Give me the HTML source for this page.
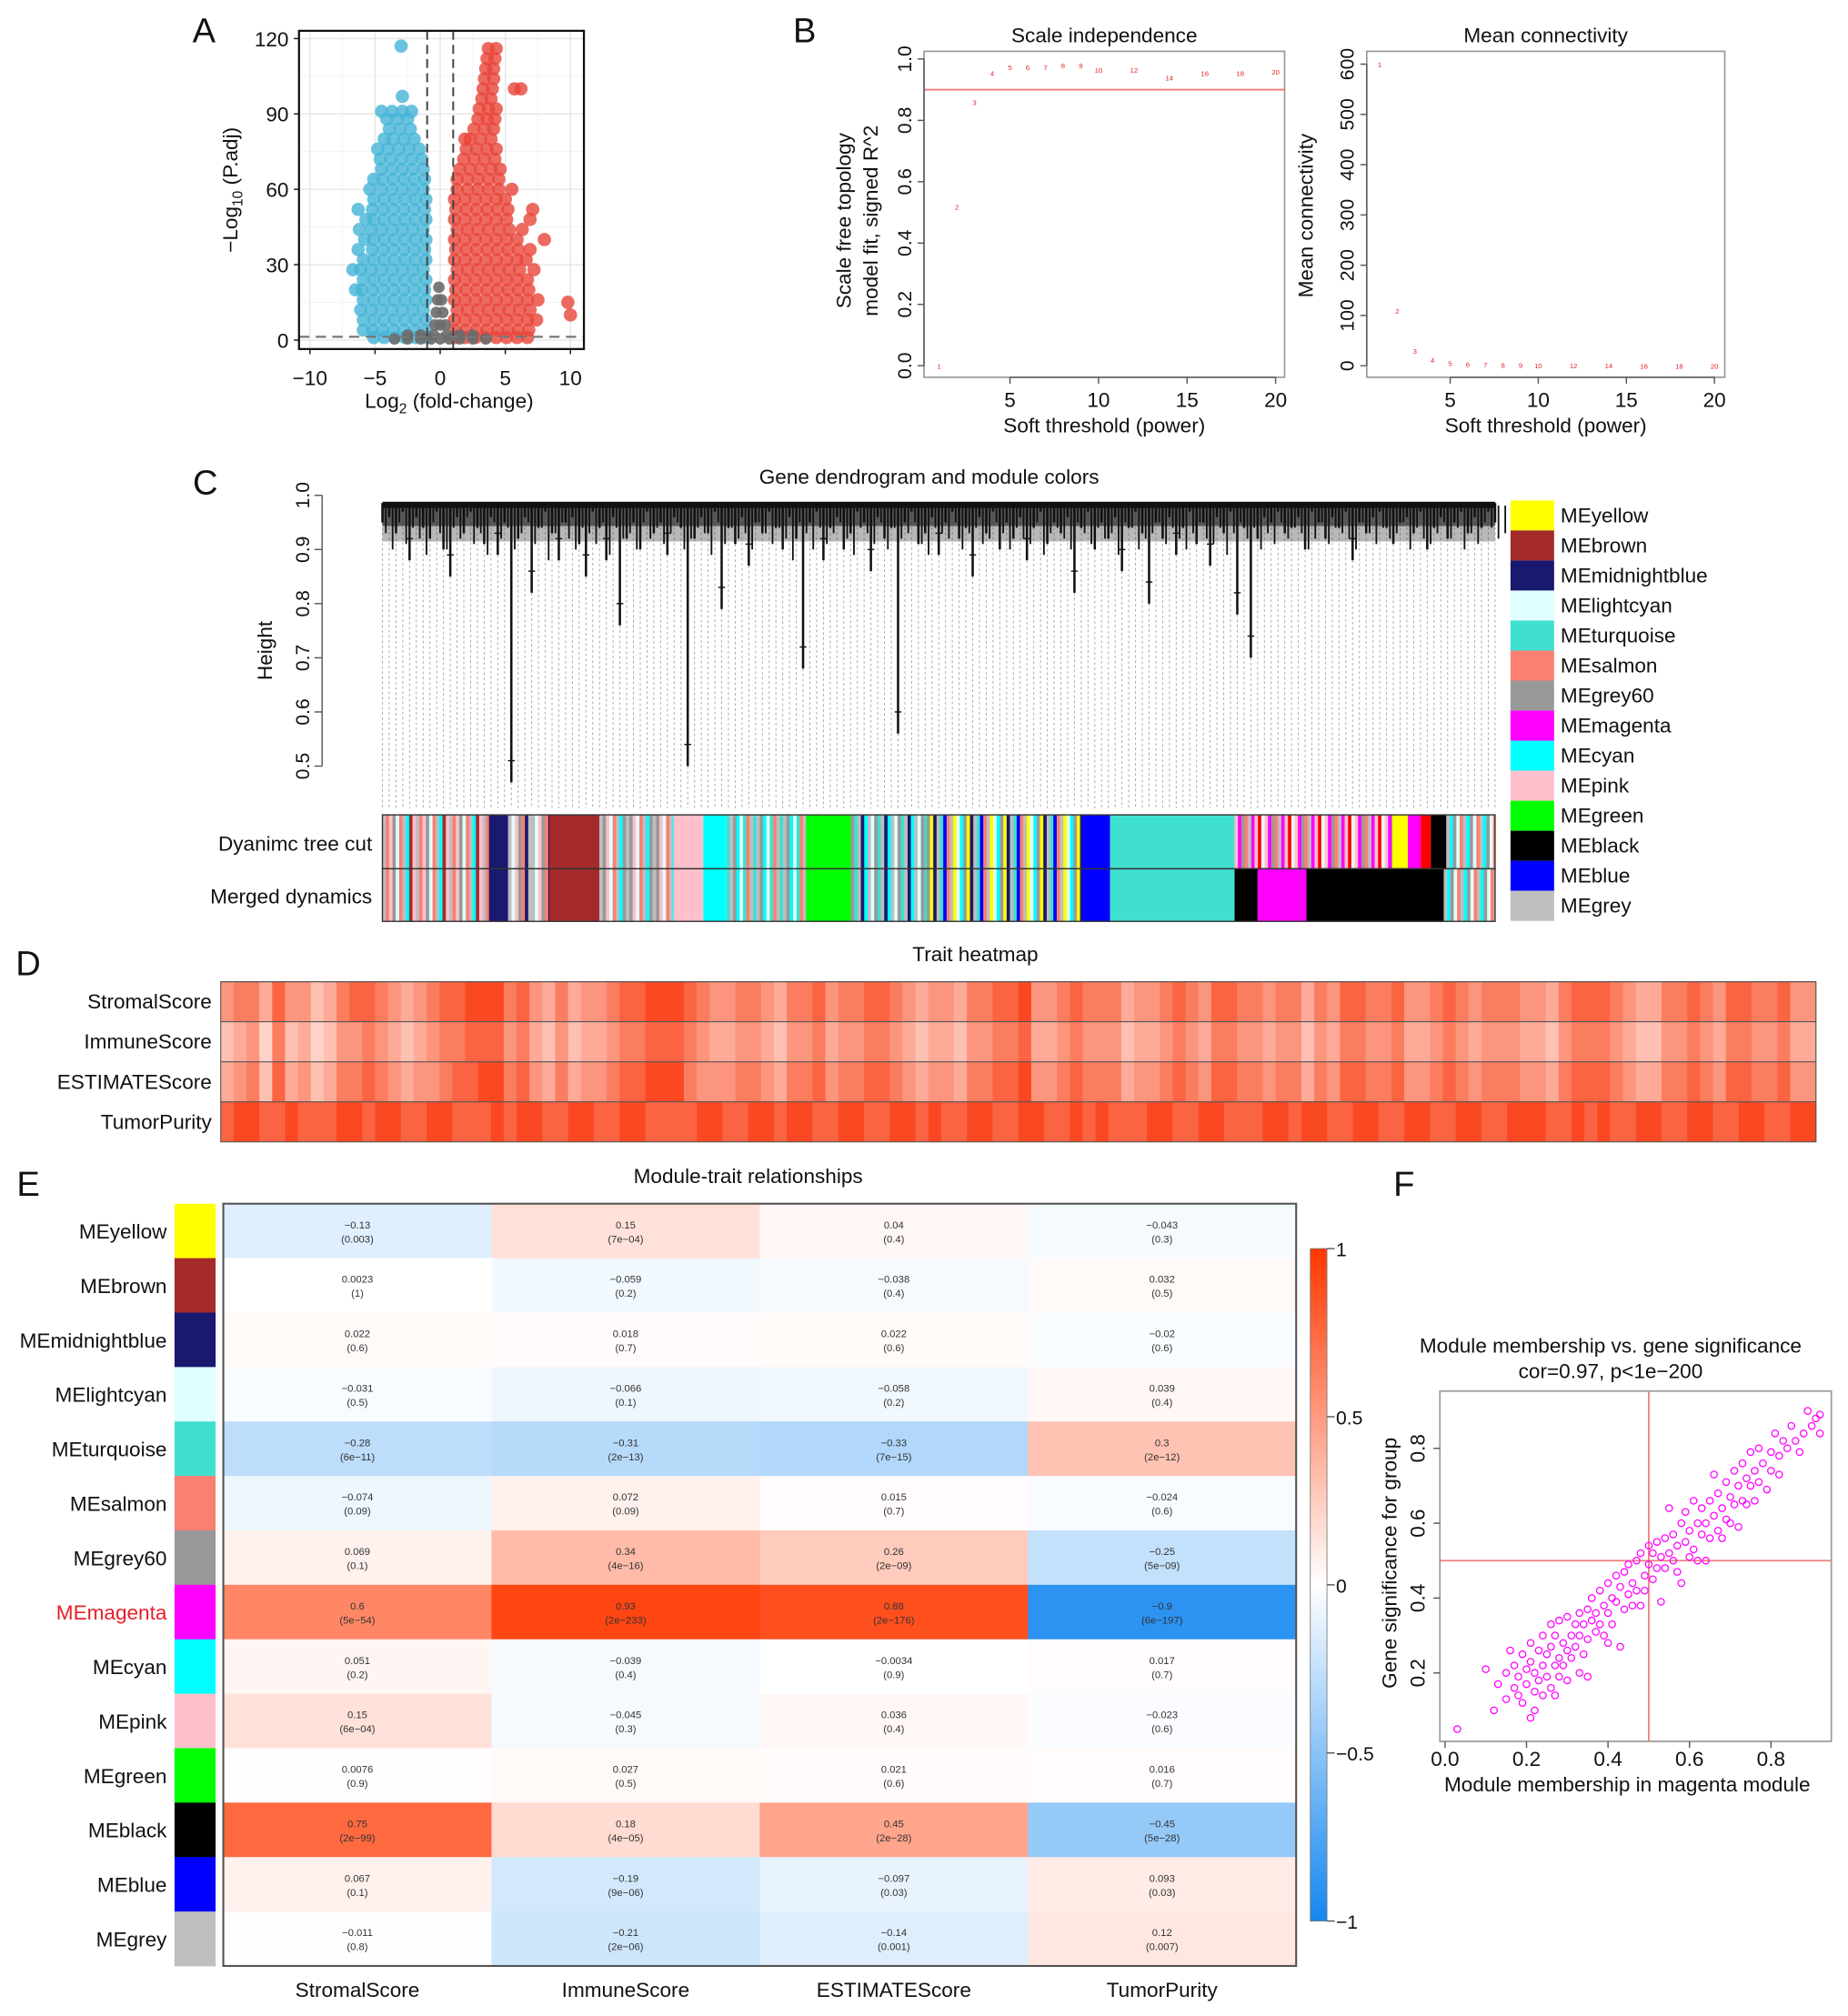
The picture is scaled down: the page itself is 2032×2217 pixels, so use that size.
<!DOCTYPE html>
<html><head><meta charset="utf-8"><title>WGCNA figure</title>
<style>
html,body{margin:0;padding:0;background:#fff;}
svg{display:block;font-family:"Liberation Sans",Arial,sans-serif;}
</style></head>
<body>
<svg id="fig" width="2032" height="2217" viewBox="0 0 1440 1571" preserveAspectRatio="none" xmlns="http://www.w3.org/2000/svg"></svg>
<script>
// ---------- DATA ----------
const blueRows = [[1,[-1.1,-1.9,-2.7,-3.5,-4.3,-5.1]],[4,[-1.2,-2,-2.8,-3.6,-4.4,-5.2,-5.9]],[8,[-1.1,-1.9,-2.7,-3.5,-4.3,-5.1,-5.9]],[12,[-1.3,-2.1,-2.9,-3.7,-4.5,-5.3,-6.1]],[16,[-1.1,-1.9,-2.7,-3.5,-4.3,-5.1,-5.9]],[20,[-1.2,-2,-2.8,-3.6,-4.4,-5.2,-6,-6.5]],[24,[-1.1,-1.9,-2.7,-3.5,-4.3,-5.1,-5.9]],[28,[-1.3,-2.1,-2.9,-3.7,-4.5,-5.3,-6.1,-6.7]],[32,[-1.1,-1.9,-2.7,-3.5,-4.3,-5.1,-5.9]],[36,[-1.2,-2,-2.8,-3.6,-4.4,-5.2,-6.3]],[40,[-1.1,-1.9,-2.7,-3.5,-4.3,-5.1,-5.8]],[44,[-1.3,-2.1,-2.9,-3.7,-4.5,-5.3,-6.2]],[48,[-1.1,-1.9,-2.7,-3.5,-4.3,-5.1,-5.7]],[52,[-1.2,-2,-2.8,-3.6,-4.4,-5.2,-6.3]],[56,[-1.1,-1.9,-2.7,-3.5,-4.3,-5.1]],[60,[-1.3,-2.1,-2.9,-3.7,-4.5,-5.4]],[64,[-1.2,-2,-2.8,-3.6,-4.4,-5.1]],[68,[-1.3,-2.1,-2.9,-3.7,-4.5]],[72,[-1.4,-2.2,-3,-3.8,-4.6]],[76,[-1.6,-2.4,-3.2,-4,-4.8]],[80,[-2,-2.8,-3.6,-4.3]],[84,[-2.3,-3.1,-3.9]],[88,[-2.5,-3.3,-4.1]],[91,[-2.2,-2.9,-3.7,-4.5]],[97,[-2.9]],[117,[-3]]];
const redRows = [[1,[1.1,1.9,2.7,3.5,4.3,5.1,5.9,6.7]],[4,[1.2,2,2.8,3.6,4.4,5.2,6,6.8]],[8,[1.1,1.9,2.7,3.5,4.3,5.1,5.9,6.7,7.4]],[12,[1.3,2.1,2.9,3.7,4.5,5.3,6.1,6.9]],[16,[1.1,1.9,2.7,3.5,4.3,5.1,5.9,6.7,7.5]],[20,[1.2,2,2.8,3.6,4.4,5.2,6,6.8]],[24,[1.1,1.9,2.7,3.5,4.3,5.1,5.9,6.7]],[28,[1.3,2.1,2.9,3.7,4.5,5.3,6.1,7.2]],[32,[1.1,1.9,2.7,3.5,4.3,5.1,5.9,6.6]],[36,[1.2,2,2.8,3.6,4.4,5.2,6,6.9]],[40,[1.1,1.9,2.7,3.5,4.3,5.1,5.9,8]],[44,[1.3,2.1,2.9,3.7,4.5,5.3,6.3]],[48,[1.1,1.9,2.7,3.5,4.3,5.1,6.9]],[52,[1.2,2,2.8,3.6,4.4,5.2,7.1]],[56,[1.1,1.9,2.7,3.5,4.3,5]],[60,[1.3,2.1,2.9,3.7,4.5,5.5]],[64,[1.3,2.1,2.9,3.7,4.5]],[68,[1.5,2.3,3.1,3.9,4.6]],[72,[1.8,2.6,3.4,4.2]],[76,[2,2.8,3.6,4.3]],[80,[2.3,3.1,3.9,1.9]],[84,[2.6,3.4,4.1]],[88,[2.9,3.6,4.2]],[92,[3,3.7,4.3]],[96,[3.2,3.9]],[100,[3.3,4,5.7,6.2]],[104,[3.4,4.1]],[108,[3.5,4.1]],[112,[3.6,4.2]],[116,[3.7,4.3]],[15,[9.8]],[10,[10]]];
const grayRows = [[0.5,[-3.5,-2.5,-1.5,-0.7,0,0.7,1.5,2.5,3.5]],[2,[-2.5,-1.5,-0.5,0.5,1.5,2.5]],[6,[-0.4,0,0.4]],[11,[-0.3,0.2]],[16,[-0.2,0.1]],[21,[-0.1]]];
const volcanoXTicks = [-10,-5,0,5,10];
const volcanoYTicks = [0,30,60,90,120];

const powers = [1,2,3,4,5,6,7,8,9,10,12,14,16,18,20];
const sftR2 = [0.0,0.52,0.86,0.955,0.975,0.975,0.975,0.98,0.98,0.965,0.965,0.94,0.955,0.955,0.96];
const meanK = [600,110,30,12,6,4,3,2,2,1.5,1,1,0.5,0.5,0.3];
const r2Ticks = [0,0.2,0.4,0.6,0.8,1.0];
const kTicks = [0,100,200,300,400,500,600];
const powerTicks = [5,10,15,20];

const leafHeights = "95 96 93 97 88 96 94 92 97 90 85 96 93 97 94 91 96 89 95 47 92 96 82 94 97 93 88 95 96 91 85 97 94 88 96 76 92 95 90 97 93 95 89 96 94 50 92 96 93 97 79 94 91 96 87 95 93 97 94 90 96 92 68 95 97 88 94 96 90 93 97 95 86 96 92 94 56 95 97 91 93 96 89 95 97 92 94 85 96 93 97 90 95 92 96 88 94 97 91 95 93 96 82 94 97 90 95 92 96 86 94 97 93 80 95 92 96 89 94 97 91 95 87 96 93 97 78 94 70 92 96 95 97 93 94 96 90 97 95 92 96 94 97 88 95 93 96 97 94 91 95 96 93 97 90 94 96 92 95 97 93 96 94 97 95".split(" ").map(Number);
const subLeafHeights = "93 90 95 91 94 92 89 95 93 90 94 92 96 91 93 89 95 92 94 90 93 95 91 94 88 93 95 92 90 94 93 91 95 89 94 92 93 90 95 92 94 91 93 95 90 92 94 93 89 95 91 94 92 93 90 95 93 91 94 92 88 95 93 90 94 91 93 95 92 89 94 93 91 95 90 94 92 93 95 91 89 94 93 92 95 90 93 94 91 92 95 93 90 94 92 91 95 89 93 94 92 90 95 93 91 94 92 93 89 95 94 90 92 93 95 91 94 92 90 93 95 92 91 94 89 93 95 92 94 90 93 91 95 92 94 93 90 92 95 91 94 93 92 90 95 93 91 94 92 93 95 90 94 92 91 93 95 92 94 90 93 91 95 94 92 93 90 95 93".split(" ").map(Number);
const heightTicks = [0.5,0.6,0.7,0.8,0.9,1.0];
const legendModules = ["MEyellow","MEbrown","MEmidnightblue","MElightcyan","MEturquoise","MEsalmon","MEgrey60","MEmagenta","MEcyan","MEpink","MEgreen","MEblack","MEblue","MEgrey"];
const legendColors = ["#FFFF00","#A52A2A","#191970","#E0FFFF","#40E0D0","#FA8072","#999999","#FF00FF","#00FFFF","#FFC0CB","#00FF00","#000000","#0000FF","#BEBEBE"];
const dynSegments = [[298,381,"grey,salmon,pink,grey60,lightcyan,salmon,grey,cyan,brown,pink"],[381,396,"midnightblue"],[396,428,"grey,lightcyan,pink,grey60,salmon,midnightblue,grey"],[428,467,"brown"],[467,525,"grey,grey60,pink,lightcyan,salmon,grey,cyan,grey60"],[525,548,"pink"],[548,566,"cyan"],[566,628,"turquoise,grey,grey60,cyan,lightcyan,turquoise,salmon,grey"],[628,663,"green"],[663,722,"grey60,turquoise,grey,midnightblue,cyan,grey,lightcyan"],[722,843,"grey60,yellow,midnightblue,grey,turquoise,blue,salmon,grey,yellow,lightcyan,cyan"],[843,865,"blue"],[865,962,"turquoise"],[962,1085,"pink,magenta,grey60,salmon,grey,magenta,pink,red,lightcyan"],[1085,1097,"yellow"],[1097,1107,"magenta"],[1107,1115,"red"],[1115,1127,"black"],[1127,1165,"grey,cyan,grey60,lightcyan,salmon"]];
const mrgSegments = [[298,381,"grey,salmon,pink,grey60,lightcyan,salmon,grey,cyan,brown,pink"],[381,396,"midnightblue"],[396,428,"grey,lightcyan,pink,grey60,salmon,midnightblue,grey"],[428,467,"brown"],[467,525,"grey,grey60,pink,lightcyan,salmon,grey,cyan,grey60"],[525,548,"pink"],[548,566,"cyan"],[566,628,"turquoise,grey,grey60,cyan,lightcyan,turquoise,salmon,grey"],[628,663,"green"],[663,722,"grey60,turquoise,grey,midnightblue,cyan,grey,lightcyan"],[722,843,"grey60,yellow,midnightblue,grey,turquoise,blue,salmon,grey,yellow,lightcyan,cyan"],[843,865,"blue"],[865,962,"turquoise"],[962,980,"black"],[980,1018,"magenta"],[1018,1125,"black"],[1125,1165,"grey,cyan,grey60,lightcyan,salmon"]];

const traitNames = ["StromalScore","ImmuneScore","ESTIMATEScore","TumorPurity"];
const stromalVals = "6775866457887656788999786575667889998766776577867788765665778896678777566787688776775768877866787677766578887655778768877866".split("").map(Number);
const immuneVals  = "4563745346676545677888675464556778887655665466756677654554667785567666455676577665664657766755676566655467776544667657766755".split("").map(Number);
const estimateVals= "5674856457787656678899786575667889997666776577867788765665778896678777566787688776775768877866787677766578887655778768877866".split("").map(Number);
const purityVals  = "8998898889989988998889899889988998888998899899889988998988998899889898889988998889989988998899889988999889898899889988998899".split("").map(Number);

const eModules = ["MEyellow","MEbrown","MEmidnightblue","MElightcyan","MEturquoise","MEsalmon","MEgrey60","MEmagenta","MEcyan","MEpink","MEgreen","MEblack","MEblue","MEgrey"];
const eTraits = ["StromalScore","ImmuneScore","ESTIMATEScore","TumorPurity"];
const corStromal  = [-0.13,0.0023,0.022,-0.031,-0.28,-0.074,0.069,0.6,0.051,0.15,0.0076,0.75,0.067,-0.011];
const corImmune   = [0.15,-0.059,0.018,-0.066,-0.31,0.072,0.34,0.93,-0.039,-0.045,0.027,0.18,-0.19,-0.21];
const corEstimate = [0.04,-0.038,0.022,-0.058,-0.33,0.015,0.26,0.88,-0.0034,0.036,0.021,0.45,-0.097,-0.14];
const corPurity   = [-0.043,0.032,-0.02,0.039,0.3,-0.024,-0.25,-0.9,0.017,-0.023,0.016,-0.45,0.093,0.12];
const pStromal  = ["0.003","1","0.6","0.5","6e−11","0.09","0.1","5e−54","0.2","6e−04","0.9","2e−99","0.1","0.8"];
const pImmune   = ["7e−04","0.2","0.7","0.1","2e−13","0.09","4e−16","2e−233","0.4","0.3","0.5","4e−05","9e−06","2e−06"];
const pEstimate = ["0.4","0.4","0.6","0.2","7e−15","0.7","2e−09","2e−176","0.9","0.4","0.6","2e−28","0.03","0.001"];
const pPurity   = ["0.3","0.5","0.6","0.4","2e−12","0.6","5e−09","6e−197","0.7","0.6","0.7","5e−28","0.03","0.007"];
const colorbarTicks = [1,0.5,0,-0.5,-1];

const fPoints = [[0.03,0.05],[0.1,0.21],[0.12,0.1],[0.13,0.17],[0.15,0.2],[0.15,0.13],[0.16,0.26],[0.17,0.16],[0.17,0.22],[0.18,0.14],[0.18,0.19],[0.19,0.25],[0.19,0.12],[0.2,0.21],[0.2,0.17],[0.21,0.08],[0.21,0.28],[0.21,0.23],[0.22,0.15],[0.22,0.2],[0.22,0.1],[0.23,0.26],[0.23,0.18],[0.24,0.3],[0.24,0.22],[0.24,0.14],[0.25,0.25],[0.25,0.19],[0.26,0.33],[0.26,0.27],[0.26,0.16],[0.27,0.22],[0.27,0.3],[0.27,0.14],[0.28,0.24],[0.28,0.34],[0.28,0.19],[0.29,0.28],[0.29,0.22],[0.3,0.35],[0.3,0.26],[0.3,0.18],[0.31,0.3],[0.31,0.24],[0.32,0.33],[0.32,0.27],[0.33,0.2],[0.33,0.36],[0.33,0.3],[0.34,0.25],[0.34,0.33],[0.35,0.37],[0.35,0.29],[0.35,0.19],[0.36,0.34],[0.36,0.4],[0.37,0.31],[0.37,0.36],[0.38,0.42],[0.38,0.33],[0.39,0.3],[0.39,0.38],[0.4,0.44],[0.4,0.36],[0.4,0.28],[0.41,0.4],[0.41,0.33],[0.42,0.46],[0.42,0.39],[0.43,0.43],[0.43,0.27],[0.44,0.37],[0.44,0.47],[0.45,0.41],[0.45,0.49],[0.46,0.38],[0.46,0.44],[0.47,0.5],[0.47,0.42],[0.48,0.52],[0.48,0.38],[0.49,0.46],[0.49,0.42],[0.5,0.49],[0.5,0.54],[0.51,0.45],[0.51,0.52],[0.52,0.55],[0.52,0.48],[0.53,0.39],[0.53,0.51],[0.54,0.56],[0.54,0.48],[0.55,0.64],[0.55,0.52],[0.56,0.5],[0.56,0.57],[0.57,0.47],[0.57,0.54],[0.58,0.6],[0.58,0.44],[0.59,0.55],[0.59,0.63],[0.6,0.58],[0.6,0.51],[0.61,0.66],[0.61,0.53],[0.62,0.6],[0.62,0.5],[0.63,0.57],[0.63,0.64],[0.64,0.6],[0.64,0.5],[0.65,0.66],[0.65,0.56],[0.66,0.73],[0.66,0.62],[0.67,0.58],[0.67,0.68],[0.68,0.64],[0.68,0.56],[0.69,0.71],[0.69,0.61],[0.7,0.67],[0.7,0.6],[0.71,0.74],[0.71,0.65],[0.72,0.7],[0.72,0.59],[0.73,0.76],[0.73,0.66],[0.74,0.72],[0.74,0.65],[0.75,0.79],[0.75,0.7],[0.76,0.74],[0.76,0.66],[0.77,0.8],[0.77,0.71],[0.78,0.76],[0.79,0.69],[0.8,0.79],[0.8,0.74],[0.81,0.84],[0.82,0.78],[0.82,0.73],[0.83,0.82],[0.84,0.8],[0.85,0.86],[0.86,0.82],[0.87,0.79],[0.88,0.84],[0.89,0.9],[0.9,0.86],[0.91,0.88],[0.92,0.84],[0.92,0.89]];
const fXTicks = [0,0.2,0.4,0.6,0.8];
const fYTicks = [0.2,0.4,0.6,0.8];

// ---------- HELPERS ----------
const NS = "http://www.w3.org/2000/svg";
const svg = document.getElementById("fig");
function mk(tag, attrs, parent, text){
  const e = document.createElementNS(NS, tag);
  for (const k in attrs) e.setAttribute(k, attrs[k]);
  if (text !== undefined) e.textContent = text;
  (parent || svg).appendChild(e);
  return e;
}
function grp(name){
  const g = mk("g", {});
  
  
  return g;
}
function txt(g, x, y, s, size, anchor, extra){
  const a = Object.assign({x:x, y:y, "font-size":size, "text-anchor":anchor||"middle", fill:"#111"}, extra||{});
  return mk("text", a, g, s);
}
const modColor = {grey:"#BEBEBE",salmon:"#FA8072",pink:"#FFC0CB",grey60:"#999999",lightcyan:"#E0FFFF",cyan:"#00FFFF",brown:"#A52A2A",midnightblue:"#191970",turquoise:"#40E0D0",green:"#00FF00",yellow:"#FFFF00",blue:"#0000FF",magenta:"#FF00FF",red:"#FF0000",black:"#000000"};
function bwr(v){
  v = Math.max(-1, Math.min(1, v));
  if (v >= 0) return `rgb(255,${Math.round(255-200*v)},${Math.round(255-255*v)})`;
  const a = -v;
  return `rgb(${Math.round(255-235*a)},${Math.round(255-120*a)},${Math.round(255-15*a)})`;
}
function redScale(d){
  const a = Math.pow(d/9, 1.4);
  return `rgb(${Math.round(255-5*a)},${Math.round(248-175*a)},${Math.round(244-210*a)})`;
}

// ---------- PANEL LABELS ----------
const labels = grp("panel-labels");
[["A",159,33],["B",627,33],["C",160,385],["D",22,760],["E",22,932],["F",1094,932]].forEach(l=>{
  const t = txt(labels, l[1], l[2], l[0], 27, "middle");
  
  
});

// ---------- PANEL A ----------
(function(){
  const g = grp("volcano-plot");
  const L=233,R=455,T=24,B=272;
  const xA = v => 343 + v*10.15;
  const yA = v => 265 - v*1.958;
  mk("rect",{x:L,y:T,width:R-L,height:B-T,fill:"#fff"},g);
  [-7.5,-2.5,2.5,7.5].forEach(v=>mk("line",{x1:xA(v),x2:xA(v),y1:T,y2:B,stroke:"#f2f2f2","stroke-width":0.6},g));
  [15,45,75,105].forEach(v=>mk("line",{x1:L,x2:R,y1:yA(v),y2:yA(v),stroke:"#f2f2f2","stroke-width":0.6},g));
  volcanoXTicks.forEach(v=>mk("line",{x1:xA(v),x2:xA(v),y1:T,y2:B,stroke:"#e6e6e6","stroke-width":1},g));
  volcanoYTicks.forEach(v=>mk("line",{x1:L,x2:R,y1:yA(v),y2:yA(v),stroke:"#e6e6e6","stroke-width":1},g));
  const pts = mk("g",{},g);
  
  
  blueRows.forEach(r=>r[1].forEach(x=>{
    const c = mk("circle",{cx:xA(x),cy:yA(r[0]),r:5.2,fill:"#45B4D6","fill-opacity":0.8},pts);
    
    
  }));
  redRows.forEach(r=>r[1].forEach(x=>{
    const c = mk("circle",{cx:xA(x),cy:yA(r[0]),r:5.2,fill:"#E8453A","fill-opacity":0.8},pts);
    
    
  }));
  grayRows.forEach(r=>r[1].forEach(x=>{
    const c = mk("circle",{cx:xA(x),cy:yA(r[0]),r:4.5,fill:"#6b6b6b","fill-opacity":0.9},pts);
    
    
  }));
  [-1,1].forEach(v=>mk("line",{x1:xA(v),x2:xA(v),y1:T,y2:B,stroke:"#444","stroke-width":1.4,"stroke-dasharray":"7,4"},g));
  mk("line",{x1:L,x2:R,y1:yA(1.3),y2:yA(1.3),stroke:"#777","stroke-width":1.6,"stroke-dasharray":"8,5"},g);
  mk("rect",{x:L,y:T,width:R-L,height:B-T,fill:"none",stroke:"#111","stroke-width":1.6},g);
  volcanoXTicks.forEach(v=>{
    mk("line",{x1:xA(v),x2:xA(v),y1:B,y2:B+4,stroke:"#111"},g);
    const t = txt(g,xA(v),B+28,String(v).replace("-","−"),16,"middle");
    
    
  });
  volcanoYTicks.forEach(v=>{
    mk("line",{x1:L-4,x2:L,y1:yA(v),y2:yA(v),stroke:"#111"},g);
    const t = txt(g,L-8,yA(v)+6,String(v),16,"end");
    
    
  });
  const xt = mk("text",{x:350,y:318,"font-size":16,"text-anchor":"middle",fill:"#111"},g);
  xt.innerHTML = 'Log<tspan font-size="11" dy="4">2</tspan><tspan dy="-4"> (fold-change)</tspan>';
  
  
  const yt = mk("text",{x:0,y:0,"font-size":16,"text-anchor":"middle",fill:"#111",transform:"translate(185,148) rotate(-90)"},g);
  yt.innerHTML = '−Log<tspan font-size="11" dy="4">10</tspan><tspan dy="-4"> (P.adj)</tspan>';
  
  
})();

// ---------- PANEL B ----------
function panelB(name, L, R, x0, xScale, yFn, ticks, vals, title, ytitle, yticksFmt, showLine){
  const g = grp(name);
  const T=40,B=294;
  const xB = p => x0 + (p-5)*xScale;
  mk("rect",{x:L,y:T,width:R-L,height:B-T,fill:"#fff",stroke:"#999","stroke-width":1.2},g);
  const tt = txt(g,(L+R)/2,33,title,16,"middle");
  
  
  if (showLine){
    const ln = mk("line",{x1:L,x2:R,y1:yFn(0.9),y2:yFn(0.9),stroke:"#F08080","stroke-width":1.4},g);
    
    
  }
  powers.forEach((p,i)=>{
    const t = txt(g,xB(p),yFn(vals[i])+2.5,String(p),5.5,"middle",{fill:"#E8202A"});
    
    
  });
  powerTicks.forEach(p=>{
    mk("line",{x1:xB(p),x2:xB(p),y1:B,y2:B+5,stroke:"#555"},g);
    const t = txt(g,xB(p),B+23,String(p),16,"middle");
    
    
  });
  mk("line",{x1:xB(5),x2:xB(20),y1:B,y2:B,stroke:"#555"},g);
  ticks.forEach(v=>{
    mk("line",{x1:L-5,x2:L,y1:yFn(v),y2:yFn(v),stroke:"#555"},g);
    const t = txt(g,0,0,yticksFmt(v),15,"middle",{transform:`translate(${L-10},${yFn(v)}) rotate(-90)`});
    
    
  });
  mk("line",{x1:L,x2:L,y1:yFn(ticks[0]),y2:yFn(ticks[ticks.length-1]),stroke:"#555"},g);
  const xt = txt(g,(L+R)/2,337,"Soft threshold (power)",16,"middle");
  
  
  ytitle.forEach((s,i)=>{
    const t = txt(g,0,0,s,16,"middle",{transform:`translate(${ytitle.length>1?663+i*21:1023},${ytitle.length>1?172:168}) rotate(-90)`});
    
    
  });
}
panelB("scale-independence-plot",720,1001,787,13.8,v=>285-v*239,r2Ticks,sftR2,"Scale independence",["Scale free topology","model fit, signed R^2"],v=>v.toFixed(1),true);
panelB("mean-connectivity-plot",1065,1344,1130,13.73,v=>285-v*0.3917,kTicks,meanK,"Mean connectivity",["Mean connectivity"],v=>String(v),false);

// ---------- PANEL C ----------
(function(){
  const g = grp("gene-dendrogram");
  const yH = h => 386 + (1-h)*422;
  const tt = txt(g,724,377,"Gene dendrogram and module colors",16,"middle");
  
  
  heightTicks.forEach(v=>{
    mk("line",{x1:245,x2:251,y1:yH(v),y2:yH(v),stroke:"#555"},g);
    const t = txt(g,0,0,v.toFixed(1),15,"middle",{transform:`translate(241,${yH(v)}) rotate(-90)`});
    
    
  });
  mk("line",{x1:251,x2:251,y1:yH(0.5),y2:yH(1),stroke:"#555"},g);
  const yt = txt(g,0,0,"Height",16,"middle",{transform:"translate(212,507) rotate(-90)"});
  
  
  const L=298,R=1165, step=(R-L)/(leafHeights.length-1);
  leafHeights.forEach((h,i)=>{
    const x = L + i*step;
    mk("line",{x1:x,x2:x,y1:yH(h/100),y2:630,stroke:"#aaa","stroke-width":0.7,"stroke-dasharray":"2,2"},g);
  });
  mk("rect",{x:L,y:391,width:R-L,height:5,fill:"#111"},g);
  mk("rect",{x:L,y:396,width:R-L,height:14,fill:"#222","fill-opacity":0.75},g);
  mk("rect",{x:L,y:410,width:R-L,height:12,fill:"#333","fill-opacity":0.35},g);
  subLeafHeights.forEach((h,i)=>{
    const x = L + (i+0.5)*step;
    const ln = mk("line",{x1:x,x2:x,y1:394,y2:yH(h/100),stroke:"#111","stroke-width":1.3},g);
    
    
  });
  leafHeights.forEach((h,i)=>{
    const x = L + i*step;
    const hv = h/100;
    const ln = mk("line",{x1:x,x2:x,y1:392,y2:yH(hv),stroke:"#111","stroke-width":1.8},g);
    
    
    if (hv < 0.9){ mk("line",{x1:x-step*0.5,x2:x+step*0.5,y1:yH(hv+0.04),y2:yH(hv+0.04),stroke:"#111","stroke-width":1},g); }
  });
  function bar(segs, y, h, name){
    const bg = mk("g",{},g);
    
    
    segs.forEach(s=>{
      const cols = s[2].split(",");
      if (cols.length===1){ mk("rect",{x:s[0],y:y,width:s[1]-s[0],height:h,fill:modColor[cols[0]]},bg); return; }
      let x=s[0], k=0;
      while (x < s[1]){
        const w = Math.min(2.6, s[1]-x);
        mk("rect",{x:x,y:y,width:w+0.2,height:h,fill:modColor[cols[k%cols.length]]},bg);
        x += w; k += 1;
      }
    });
    mk("rect",{x:298,y:y,width:867,height:h,fill:"none",stroke:"#333","stroke-width":1},bg);
  }
  bar(dynSegments,635,42,"dynamic-tree-cut-bar");
  bar(mrgSegments,677,41,"merged-dynamics-bar");
  const l1 = txt(g,290,663,"Dyanimc tree cut",16,"end");
  
  
  const l2 = txt(g,290,704,"Merged dynamics",16,"end");
  
  
  const lg = grp("module-legend");
  legendModules.forEach((m,i)=>{
    const y = 390 + i*23.4;
    const r = mk("rect",{x:1177,y:y,width:34,height:23.4,fill:legendColors[i]},lg);
    
    
    const t = txt(lg,1216,y+17,m,16,"start");
    
    
  });
})();

// ---------- PANEL D ----------
(function(){
  const g = grp("trait-heatmap");
  const tt = txt(g,760,749,"Trait heatmap",16,"middle");
  
  
  const rows = [stromalVals, immuneVals, estimateVals, purityVals];
  const L=172,R=1415,T=765,H=31.2;
  rows.forEach((vals,r)=>{
    const w = (R-L)/vals.length;
    vals.forEach((v,i)=>{
      const c = mk("rect",{x:L+i*w,y:T+r*H,width:w+0.4,height:H,fill:redScale(v)},g);
      
      
    });
    mk("line",{x1:L,x2:R,y1:T+r*H,y2:T+r*H,stroke:"#555","stroke-width":0.8},g);
    const t = txt(g,165,T+r*H+21,traitNames[r],16,"end");
    
    
  });
  mk("rect",{x:L,y:T,width:R-L,height:4*H,fill:"none",stroke:"#555","stroke-width":0.8},g);
})();

// ---------- PANEL E ----------
(function(){
  const g = grp("module-trait-heatmap");
  const tt = txt(g,583,922,"Module-trait relationships",16,"middle");
  
  
  const L=174,R=1010,T=938,B=1532;
  const rh=(B-T)/eModules.length, cw=(R-L)/eTraits.length;
  const cors=[corStromal,corImmune,corEstimate,corPurity];
  const ps=[pStromal,pImmune,pEstimate,pPurity];
  eModules.forEach((m,i)=>{
    const y=T+i*rh;
    const sw = mk("rect",{x:136,y:y,width:32,height:rh+0.3,fill:legendColors[i]},g);
    
    
    const t = txt(g,130,y+rh/2+6,m,16,"end",{fill: m==="MEmagenta"?"#E8202A":"#111"});
    
    
    cors.forEach((col,j)=>{
      const x=L+j*cw;
      const c = mk("rect",{x:x,y:y,width:cw+0.3,height:rh+0.3,fill:bwr(col[i])},g);
      
      
      const s = String(col[i]).replace("-","−");
      const t1 = txt(g,x+cw/2,y+rh/2-2,s,8,"middle",{fill:"#333"});
      
      
      const t2 = txt(g,x+cw/2,y+rh/2+9,"("+ps[j][i]+")",8,"middle",{fill:"#333"});
      
      
    });
  });
  mk("rect",{x:L,y:T,width:R-L,height:B-T,fill:"none",stroke:"#555","stroke-width":1.5},g);
  eTraits.forEach((tr,j)=>{
    const t = txt(g,L+j*cw+cw/2,1556,tr,16,"middle");
    
    
  });
  const cb = grp("colorbar");
  const defs = mk("defs",{},cb);
  const lgd = mk("linearGradient",{id:"cbg",x1:0,y1:0,x2:0,y2:1},defs);
  [1,0.5,0,-0.5,-1].forEach((v,k)=>mk("stop",{offset:(k*25)+"%","stop-color":bwr(v)},lgd));
  const yc = v => 1235 - v*262;
  mk("rect",{x:1021,y:yc(1),width:13,height:yc(-1)-yc(1),fill:"url(#cbg)",stroke:"#777","stroke-width":0.6},cb);
  colorbarTicks.forEach(v=>{
    mk("line",{x1:1034,x2:1040,y1:yc(v),y2:yc(v),stroke:"#555"},cb);
    const t = txt(cb,1041,yc(v)+6,String(v).replace("-","−"),15,"start");
    
    
  });
})();

// ---------- PANEL F ----------
(function(){
  const g = grp("membership-significance-scatter");
  const L=1122,R=1427,T=1084,B=1357;
  const xF = v => 1126 + v*317.5;
  const yF = v => 1362 - v*291.7;
  const t1 = txt(g,1255,1054,"Module membership vs. gene significance",16,"middle");
  
  
  const t2 = txt(g,1255,1074,"cor=0.97, p<1e−200",16,"middle");
  
  
  mk("rect",{x:L,y:T,width:R-L,height:B-T,fill:"#fff",stroke:"#999","stroke-width":1.2},g);
  mk("line",{x1:xF(0.5),x2:xF(0.5),y1:T,y2:B,stroke:"#F08080","stroke-width":1.3},g);
  mk("line",{x1:L,x2:R,y1:yF(0.5),y2:yF(0.5),stroke:"#F08080","stroke-width":1.3},g);
  fPoints.forEach(p=>{
    const c = mk("circle",{cx:xF(p[0]),cy:yF(p[1]),r:2.6,fill:"none",stroke:"#FF00FF","stroke-width":0.9},g);
    
    
  });
  fXTicks.forEach(v=>{
    mk("line",{x1:xF(v),x2:xF(v),y1:B,y2:B+5,stroke:"#555"},g);
    const t = txt(g,xF(v),B+19,v.toFixed(1),16,"middle");
    
    
  });
  fYTicks.forEach(v=>{
    mk("line",{x1:L-5,x2:L,y1:yF(v),y2:yF(v),stroke:"#555"},g);
    const t = txt(g,0,0,v.toFixed(1),16,"middle",{transform:`translate(${L-12},${yF(v)}) rotate(-90)`});
    
    
  });
  const xt = txt(g,1268,1396,"Module membership in magenta module",16,"middle");
  
  
  const yt = txt(g,0,0,"Gene significance for group",16,"middle",{transform:"translate(1088,1218) rotate(-90)"});
  
  
})();
</script>
</body></html>
